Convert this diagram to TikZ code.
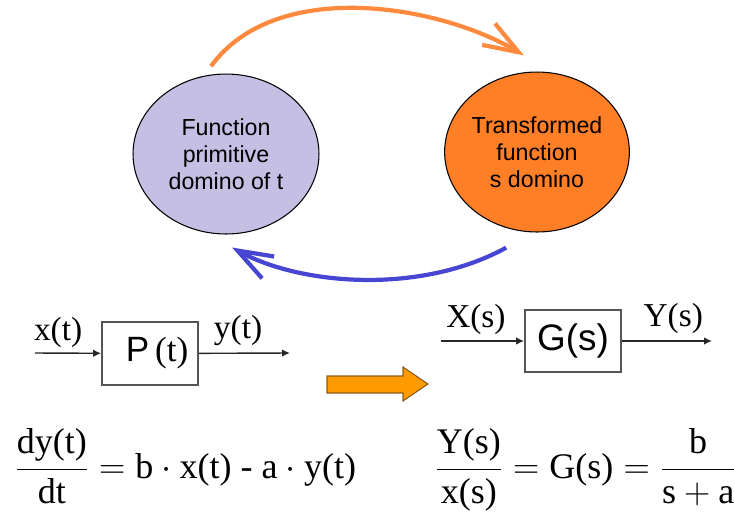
\documentclass[tikz,border=0pt]{standalone}
\usepackage{fontspec}
\setmainfont{Liberation Serif}
\setsansfont{Liberation Sans}
\usetikzlibrary{arrows.meta, positioning, shapes.geometric}
\definecolor{clilac}{HTML}{C5BFE4}
\definecolor{corange}{HTML}{FF7F27}
\definecolor{carc}{HTML}{FF8A3D}
\definecolor{cblue}{HTML}{4646D2}
\definecolor{camber}{HTML}{FF9A00}
\definecolor{cbrown}{HTML}{8A5A1E}
\definecolor{cgrey}{HTML}{555555}
\tikzset{
  every picture/.style={line width=0.8pt},
  oval/.style={ellipse, draw=black, line width=0.6pt, fill=#1, inner sep=0pt, align=center, font=\sffamily\fontsize{13.2}{15.4}\selectfont},
  block/.style={draw=cgrey, line width=1pt, minimum width=1.92cm, minimum height=1.25cm, inner sep=0pt},
  sigline/.style={-{Latex[length=1.6mm,width=1.5mm]}, draw=black!85, line width=0.8pt},
  turn/.style={-{Straight Barb[length=7mm,width=5mm]}, line width=2.4pt, draw=#1},
  sig/.style={font=\fontsize{19}{22}\selectfont, inner sep=0pt},
  eqn/.style={font=\fontsize{20.5}{24}\selectfont, inner sep=0pt, anchor=base west},
}

\begin{document}
\begin{tikzpicture}[x=0.02cm, y=-0.02cm]
  \useasboundingbox (0,0) rectangle (734,512);
  % ---- the two domains
  \node[oval=clilac, minimum width=3.72cm, minimum height=3.2cm] (tdom) at (226,154) {Function\\primitive\\domino of t};
  \node[oval=corange, minimum width=3.62cm, minimum height=3.2cm] (sdom) at (537,152) {Transformed\\function\\s domino};
  \draw[turn=carc] ([shift={(13,-11)}]tdom.110) .. controls (276,-23) and (440,5) .. ([shift={(1,-17)}]sdom.100);
  \draw[turn=cblue] ([shift={(4,21)}]sdom.245) .. controls (420,295) and (300,285) .. ([shift={(6,13)}]tdom.south);
  % ---- time domain block
  \node[block, font=\fontsize{20}{24}\selectfont] (pt) at (150,353.5) {\hspace*{0.28cm}{\sffamily P}\,(t)};
  \coordinate (xin) at (35,353);
  \coordinate (yout) at (290,353);
  \draw[sigline] (xin) -- node[sig, above=3pt, pos=0.35] {x(t)} (pt);
  \draw[sigline] (pt) -- node[sig, above=4pt, pos=0.43] {y(t)} (yout);
  % ---- transfer arrow
  \draw[fill=camber, draw=cbrown, line width=0.6pt] (327,376) -- (403,376) -- (403,367) -- (428,384) -- (403,401) -- (403,393) -- (327,393) -- cycle;
  % ---- s domain block
  \node[block, minimum height=1.24cm, font=\sffamily\fontsize{21}{24}\selectfont] (gs) at (573,341) {G(s)};
  \coordinate (Xin) at (441,341);
  \coordinate (Yout) at (712,341);
  \draw[sigline] (Xin) -- node[sig, above=3pt, pos=0.42] {X(s)} (gs);
  \draw[sigline] (gs) -- node[sig, above=4pt, pos=0.57] {Y(s)} (Yout);
  % ---- equations
  \node[eqn] (ode) at (14,478) {$\displaystyle\frac{\textrm{dy(t)}}{\textrm{dt}} = \textrm{b}\cdot\textrm{x(t) - a}\cdot\textrm{y(t)}$};
  \node[eqn] (tf) at (434,478) {$\displaystyle\frac{\textrm{Y(s)}}{\textrm{x(s)}} = \textrm{G(s)} = \frac{\textrm{b}}{\textrm{s} + \textrm{a}}$};
\end{tikzpicture}
\end{document}
